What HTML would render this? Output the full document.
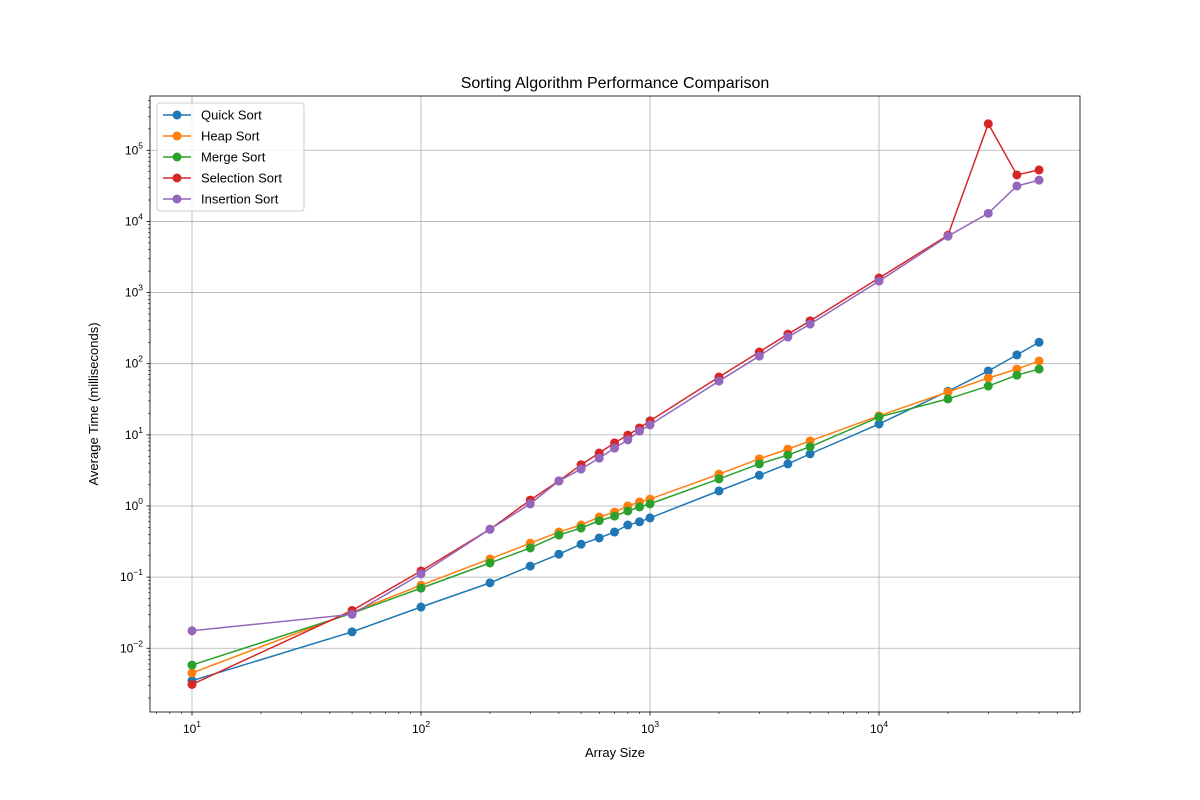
<!DOCTYPE html>
<html><head><meta charset="utf-8"><style>
body{margin:0;background:#fff;}
svg{display:block;font-family:"Liberation Sans","DejaVu Sans",sans-serif;}
</style></head><body>
<svg id="chart" width="1200" height="800" xmlns="http://www.w3.org/2000/svg"></svg>
<script>
const sizes=[10,50,100,200,300,400,500,600,700,800,900,1000,2000,3000,4000,5000,10000,20000,30000,40000,50000];
const quickSort=[0.0035,0.017,0.038,0.083,0.143,0.21,0.29,0.355,0.43,0.54,0.6,0.68,1.63,2.7,3.9,5.4,14.2,41,79,133,200];
const heapSort=[0.0045,0.032,0.077,0.18,0.30,0.43,0.54,0.7,0.82,1.0,1.14,1.25,2.8,4.6,6.3,8.2,18.5,40,63,84,109];
const mergeSort=[0.0058,0.031,0.07,0.158,0.257,0.39,0.49,0.62,0.72,0.85,0.97,1.07,2.4,3.9,5.2,6.8,17.8,32,48.5,69,84];
const selectionSort=[0.0031,0.034,0.122,0.47,1.21,2.25,3.8,5.55,7.7,9.9,12.5,15.7,65,146,260,400,1600,6400,236000,45000,53000];
const insertionSort=[0.0176,0.030,0.111,0.47,1.07,2.25,3.3,4.7,6.5,8.5,11.3,13.8,57,128,237,360,1450,6200,13000,31500,38000];
const seriesNames=["Quick Sort","Heap Sort","Merge Sort","Selection Sort","Insertion Sort"];
const seriesColors=["#1f77b4","#ff7f0e","#2ca02c","#d62728","#9467bd"];
const xTickExps=[1,2,3,4];
const yTickExps=[-2,-1,0,1,2,3,4,5];

const L=150,R=1080,T=96,B=712;
const xLogMin=0.8166,xLogMax=4.8777,yLogMin=-2.896,yLogMax=5.763;
const X=v=>L+(Math.log10(v)-xLogMin)/(xLogMax-xLogMin)*(R-L);
const Y=v=>B-(Math.log10(v)-yLogMin)/(yLogMax-yLogMin)*(B-T);
const svg=document.getElementById('chart');
const NS="http://www.w3.org/2000/svg";
function mk(tag,attrs,parent){const e=document.createElementNS(NS,tag);for(const k in attrs)e.setAttribute(k,attrs[k]);(parent||svg).appendChild(e);return e;}

// grid
for(const e of xTickExps){const x=X(Math.pow(10,e));
 const g=mk('line',{x1:x,x2:x,y1:T,y2:B,stroke:'#b0b0b0','stroke-width':0.8});
 
 }
for(const e of yTickExps){const y=Y(Math.pow(10,e));
 const g=mk('line',{x1:L,x2:R,y1:y,y2:y,stroke:'#b0b0b0','stroke-width':0.8});
 
 }

// minor ticks
for(let d=0;d<=5;d++)for(let m=2;m<=9;m++){const v=m*Math.pow(10,d);const lv=Math.log10(v);
 if(lv>xLogMin&&lv<xLogMax){const x=X(v);mk('line',{x1:x,x2:x,y1:B,y2:B+2,stroke:'#000','stroke-width':0.6});}}
for(let d=-3;d<=5;d++)for(let m=2;m<=9;m++){const v=m*Math.pow(10,d);const lv=Math.log10(v);
 if(lv>yLogMin&&lv<yLogMax){const y=Y(v);mk('line',{x1:L-2,x2:L,y1:y,y2:y,stroke:'#000','stroke-width':0.6});}}

// major ticks & labels
for(const e of xTickExps){const x=X(Math.pow(10,e));
 mk('line',{x1:x,x2:x,y1:B,y2:B+3.5,stroke:'#000','stroke-width':0.8});
 const t=mk('text',{x:x,y:B+21,'text-anchor':'middle','font-size':12});
 
 
 t.innerHTML='10<tspan dy="-6" font-size="8.5">'+e+'</tspan>';}
for(const e of yTickExps){const y=Y(Math.pow(10,e));
 mk('line',{x1:L-3.5,x2:L,y1:y,y2:y,stroke:'#000','stroke-width':0.8});
 const t=mk('text',{x:L-7,y:y+4,'text-anchor':'end','font-size':12});
 
 
 const lbl=e<0?'\u2212'+(-e):''+e;
 t.innerHTML='10<tspan dy="-6" font-size="8.5">'+lbl+'</tspan>';}

// series
const allData=[quickSort,heapSort,mergeSort,selectionSort,insertionSort];
allData.forEach((d,i)=>{
 const g=mk('g',{});
 
 
 mk('polyline',{points:d.map((v,j)=>X(sizes[j])+','+Y(v)).join(' '),fill:'none',stroke:seriesColors[i],'stroke-width':1.5},g);
 d.forEach((v,j)=>{const c=mk('circle',{cx:X(sizes[j]),cy:Y(v),r:4.5,fill:seriesColors[i]},g);
  
  });
});

// axes frame
const fr=mk('rect',{x:L,y:T,width:R-L,height:B-T,fill:'none',stroke:'#000','stroke-width':0.8});



// titles
let t=mk('text',{x:615,y:88,'text-anchor':'middle','font-size':16});t.textContent='Sorting Algorithm Performance Comparison';


t=mk('text',{x:615,y:757,'text-anchor':'middle','font-size':13});t.textContent='Array Size';


t=mk('text',{x:0,y:0,'text-anchor':'middle','font-size':13,transform:'translate(98,404) rotate(-90)'});t.textContent='Average Time (milliseconds)';



// legend
const lg=mk('g',{});


mk('rect',{x:157,y:103,width:147,height:108,rx:3,fill:'#fff','fill-opacity':0.8,stroke:'#ccc'},lg);
seriesNames.forEach((n,i)=>{const y=115+i*21;
 const e=mk('g',{},lg);
 
 
 mk('line',{x1:163,x2:191,y1:y,y2:y,stroke:seriesColors[i],'stroke-width':1.5},e);
 mk('circle',{cx:177,cy:y,r:4.5,fill:seriesColors[i]},e);
 const tt=mk('text',{x:201,y:y+4.5,'font-size':13},e);tt.textContent=n;});
</script>
</body></html>
